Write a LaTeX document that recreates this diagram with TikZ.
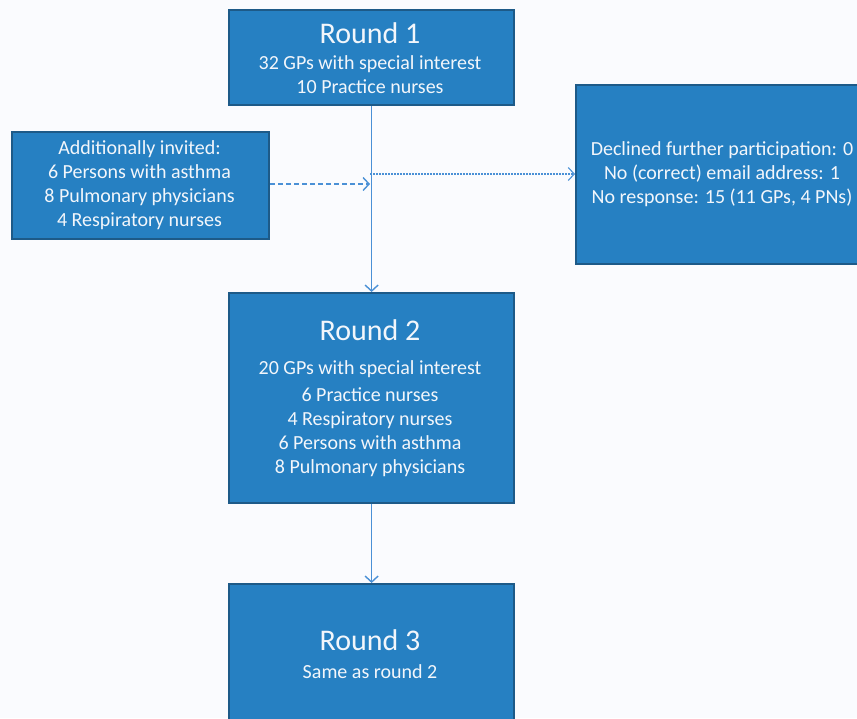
\documentclass[tikz,border=0pt]{standalone}
\usepackage{fontspec}
\setmainfont{Carlito}
\usetikzlibrary{arrows.meta}
\definecolor{bg}{HTML}{FAFBFE}
\definecolor{boxfill}{HTML}{2680C2}
\definecolor{boxedge}{HTML}{1D5A88}
\definecolor{arrowc}{HTML}{4A90D6}
\definecolor{txt}{HTML}{F2F6FB}
\tikzset{
  flowbox/.style={draw=boxedge, fill=boxfill, line width=2.2pt},
  title/.style={text=txt, font=\fontsize{30}{33}\selectfont, inner sep=0pt},
  body/.style={text=txt, font=\fontsize{20}{24}\selectfont, inner sep=0pt, align=center},
  flow/.style={draw=arrowc, line width=1.4pt, -{Straight Barb[length=6pt,width=13pt]}},
}
\begin{document}
\begin{tikzpicture}[x=1pt,y=-1pt]
\useasboundingbox (0,0) rectangle (857,718);
\clip (0,0) rectangle (857,718);
\fill[bg] (0,0) rectangle (857,718);

% boxes
\node[flowbox, minimum width=285pt, minimum height=95pt, anchor=north west, inner sep=0pt] (r1) at (228,9) {};
\node[flowbox, minimum width=257pt, minimum height=107pt, anchor=north west, inner sep=0pt] (add) at (11,131) {};
\node[flowbox, minimum width=300pt, minimum height=179pt, anchor=north west, inner sep=0pt] (decl) at (575,84) {};
\node[flowbox, minimum width=285pt, minimum height=210pt, anchor=north west, inner sep=0pt] (r2) at (228,292) {};
\node[flowbox, minimum width=285pt, minimum height=150pt, anchor=north west, inner sep=0pt] (r3) at (228,583) {};

% texts
\node[title] (r1t) at (370,33) {Round 1};
\node[body] (r1b) at (370,75) {32 GPs with special interest\\10 Practice nurses};
\node[body] (addb) at (139.5,185) {Additionally invited:\\6 Persons with asthma\\8 Pulmonary physicians\\4 Respiratory nurses};
\node[body] (declb) at (722,174) {Declined further participation: 0\\No (correct) email address: 1\\No response: 15 (11 GPs, 4 PNs)};
\node[title] (r2t) at (370,330) {Round 2};
\node[body] (r2a) at (370,369) {20 GPs with special interest};
\node[body] (r2b) at (370,432) {6 Practice nurses\\4 Respiratory nurses\\6 Persons with asthma\\8 Pulmonary physicians};
\node[title] (r3t) at (370,640) {Round 3};
\node[body] (r3b) at (370,672) {Same as round 2};

% connectors
\coordinate (j1) at (370,184);
\coordinate (j2) at (370,174);
\draw[flow] (r1.south) -- (r2.north);
\draw[flow] (r2.south) -- (r3.north);
\draw[flow, dash pattern=on 5pt off 3pt] (add.east |- j1) -- (j1);
\draw[flow, line width=1.1pt, dash pattern=on 1.5pt off 1.5pt] (j2) -- (decl.west |- j2);
\end{tikzpicture}
\end{document}
